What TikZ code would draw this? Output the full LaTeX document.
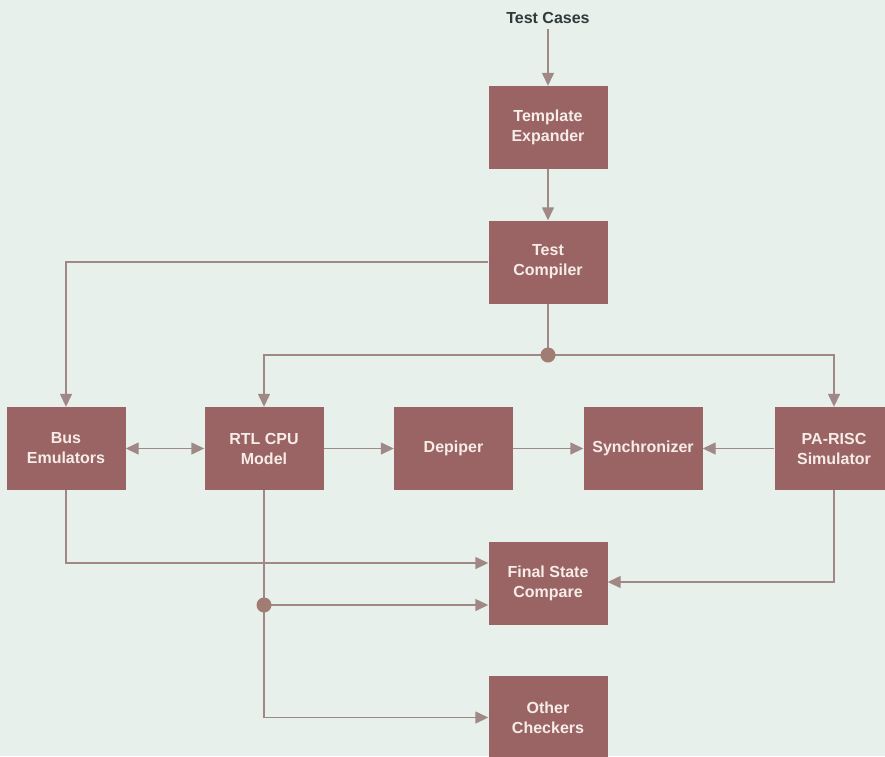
\documentclass[tikz,border=0pt]{standalone}
\usepackage{fontspec}
\setmainfont{Liberation Sans}
\usetikzlibrary{arrows.meta,calc}
\definecolor{bgc}{HTML}{E8F0EC}
\definecolor{boxc}{HTML}{9B6464}
\definecolor{boxtxt}{HTML}{F6ECE8}
\definecolor{linec}{HTML}{A08886}
\definecolor{dotc}{HTML}{A07C72}
\definecolor{titlec}{HTML}{2F3B3A}
\tikzset{
  blk/.style={rectangle, fill=boxc, draw=none, minimum width=119pt, minimum height=83pt,
    inner sep=0pt, text=boxtxt, align=center,
    font=\fontsize{16pt}{20pt}\selectfont\bfseries},
  conn/.style={draw=linec, line width=1.4pt},
  arr/.style={conn, -{Triangle[length=13pt,width=12pt,fill=linec]}},
  darr/.style={conn, {Triangle[length=13pt,width=12pt,fill=linec]}-{Triangle[length=13pt,width=12pt,fill=linec]}},
  jdot/.style={circle, fill=dotc, minimum size=15pt, inner sep=0pt}
}
\begin{document}
\begin{tikzpicture}[x=1pt,y=-1pt]
\fill[bgc] (0,0) rectangle (885,756);
\useasboundingbox (0,0) rectangle (885,756);
\clip (0,0) rectangle (885,756);

\node[text=titlec, font=\fontsize{16pt}{20pt}\selectfont\bfseries, inner sep=5pt] (tc) at (548,18) {Test Cases};
\node[blk] (te) at (548,127.5) {Template\\Expander};
\node[blk] (comp) at (548,262) {Test\\Compiler};
\node[blk] (bus) at (66,448.5) {Bus\\Emulators};
\node[blk] (rtl) at (264,448.5) {RTL CPU\\Model};
\node[blk] (dep) at (453.5,448.5) {Depiper};
\node[blk] (syn) at (643,448.5) {Synchronizer};
\node[blk] (pa) at (834,448.5) {PA-RISC\\Simulator};
\node[blk] (fsc) at (548,583.5) {Final State\\Compare};
\node[blk] (oth) at (548,717.5) {Other\\Checkers};

\coordinate (j1) at (548,355);
\coordinate (j2) at (264,605);

\draw[arr] (tc.south) -- (te.north);
\draw[arr] (te.south) -- (comp.north);
\draw[arr] (comp.west) -| (bus.north);
\draw[conn] (comp.south) -- (j1);
\draw[arr] (j1) -| (rtl.north);
\draw[arr] (j1) -| (pa.north);
\draw[darr] (bus.east) -- (rtl.west);
\draw[arr] (rtl.east) -- (dep.west);
\draw[arr] (dep.east) -- (syn.west);
\draw[arr] (pa.west) -- (syn.east);
\draw[arr] (bus.south) |- ([yshift=20.5pt]fsc.west);
\draw[arr] (pa.south) |- ([yshift=1.5pt]fsc.east);
\draw[arr] (rtl.south) |- (oth.west);
\draw[arr] (j2) -- (j2 -| fsc.west);
\node[jdot] at (j1) {};
\node[jdot] at (j2) {};
\end{tikzpicture}
\end{document}
